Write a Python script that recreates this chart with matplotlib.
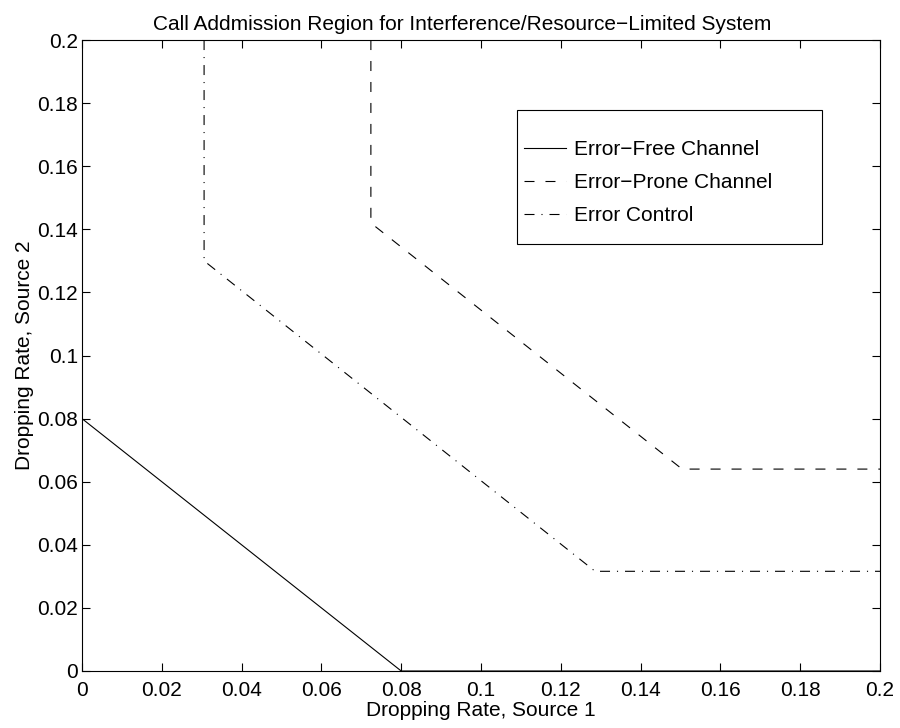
import numpy as np
import matplotlib.pyplot as plt
from matplotlib.ticker import FuncFormatter
from matplotlib.patches import Rectangle

plt.rcParams['font.family'] = ['Liberation Sans', 'DejaVu Sans']
plt.rcParams['lines.scale_dashes'] = False

# Curve data (dropping rate source 1, source 2)
free_x = [0.0, 0.08, 0.2]
free_y = [0.08, 0.0, 0.0]

prone_x = [0.0724, 0.0724, 0.1504, 0.2]
prone_y = [0.2, 0.142, 0.064, 0.064]

ctrl_x = [0.0306, 0.0306, 0.1286, 0.2]
ctrl_y = [0.2, 0.130, 0.0316, 0.0316]

ticks = np.arange(0, 0.2001, 0.02)

fig = plt.figure(figsize=(9, 7.28), dpi=100)
ax = fig.add_axes([0.0911, 0.0783, 0.8867, 0.8667])

ax.plot(free_x, free_y, color='black', linestyle='-', linewidth=0.8, label='Error\u2212Free Channel')
ax.plot(prone_x, prone_y, color='black', linestyle=(0, (7.2, 7.9)), linewidth=0.8, label='Error\u2212Prone Channel')
ax.plot(ctrl_x, ctrl_y, color='black', linestyle=(0, (7.2, 5, 0.8, 5)), linewidth=0.8, label='Error Control')

ax.set_xlim(0, 0.2)
ax.set_ylim(0, 0.2)
ax.set_xticks(ticks)
ax.set_yticks(ticks)
fmt = FuncFormatter(lambda v, p: '%g' % round(v, 4))
ax.xaxis.set_major_formatter(fmt)
ax.yaxis.set_major_formatter(fmt)
ax.tick_params(direction='in', top=True, right=True, length=6, width=0.8, labelsize=15, pad=3)
ax.tick_params(axis='x', pad=7)
for s in ax.spines.values():
    s.set_linewidth(0.8)

ax.set_title('Call Addmission Region for Interference/Resource\u2212Limited System',
             fontsize=15, pad=7, x=0.477)
ax.set_xlabel('Dropping Rate, Source 1', fontsize=15, labelpad=1)
ax.set_ylabel('Dropping Rate, Source 2', fontsize=15, labelpad=2)

# legend box drawn separately (MATLAB style, large padding)
ax.add_patch(Rectangle((0.545, 0.677), 0.382, 0.212, transform=ax.transAxes,
                       facecolor='white', edgecolor='black', linewidth=0.8, zorder=4))
leg = ax.legend(loc='upper left', bbox_to_anchor=(0.554, 0.841), fontsize=15,
                frameon=False, handlelength=2.0, handletextpad=0.4,
                borderpad=0, labelspacing=0.67, borderaxespad=0)
leg.set_zorder(5)

fig.savefig('out.png', dpi=100)
